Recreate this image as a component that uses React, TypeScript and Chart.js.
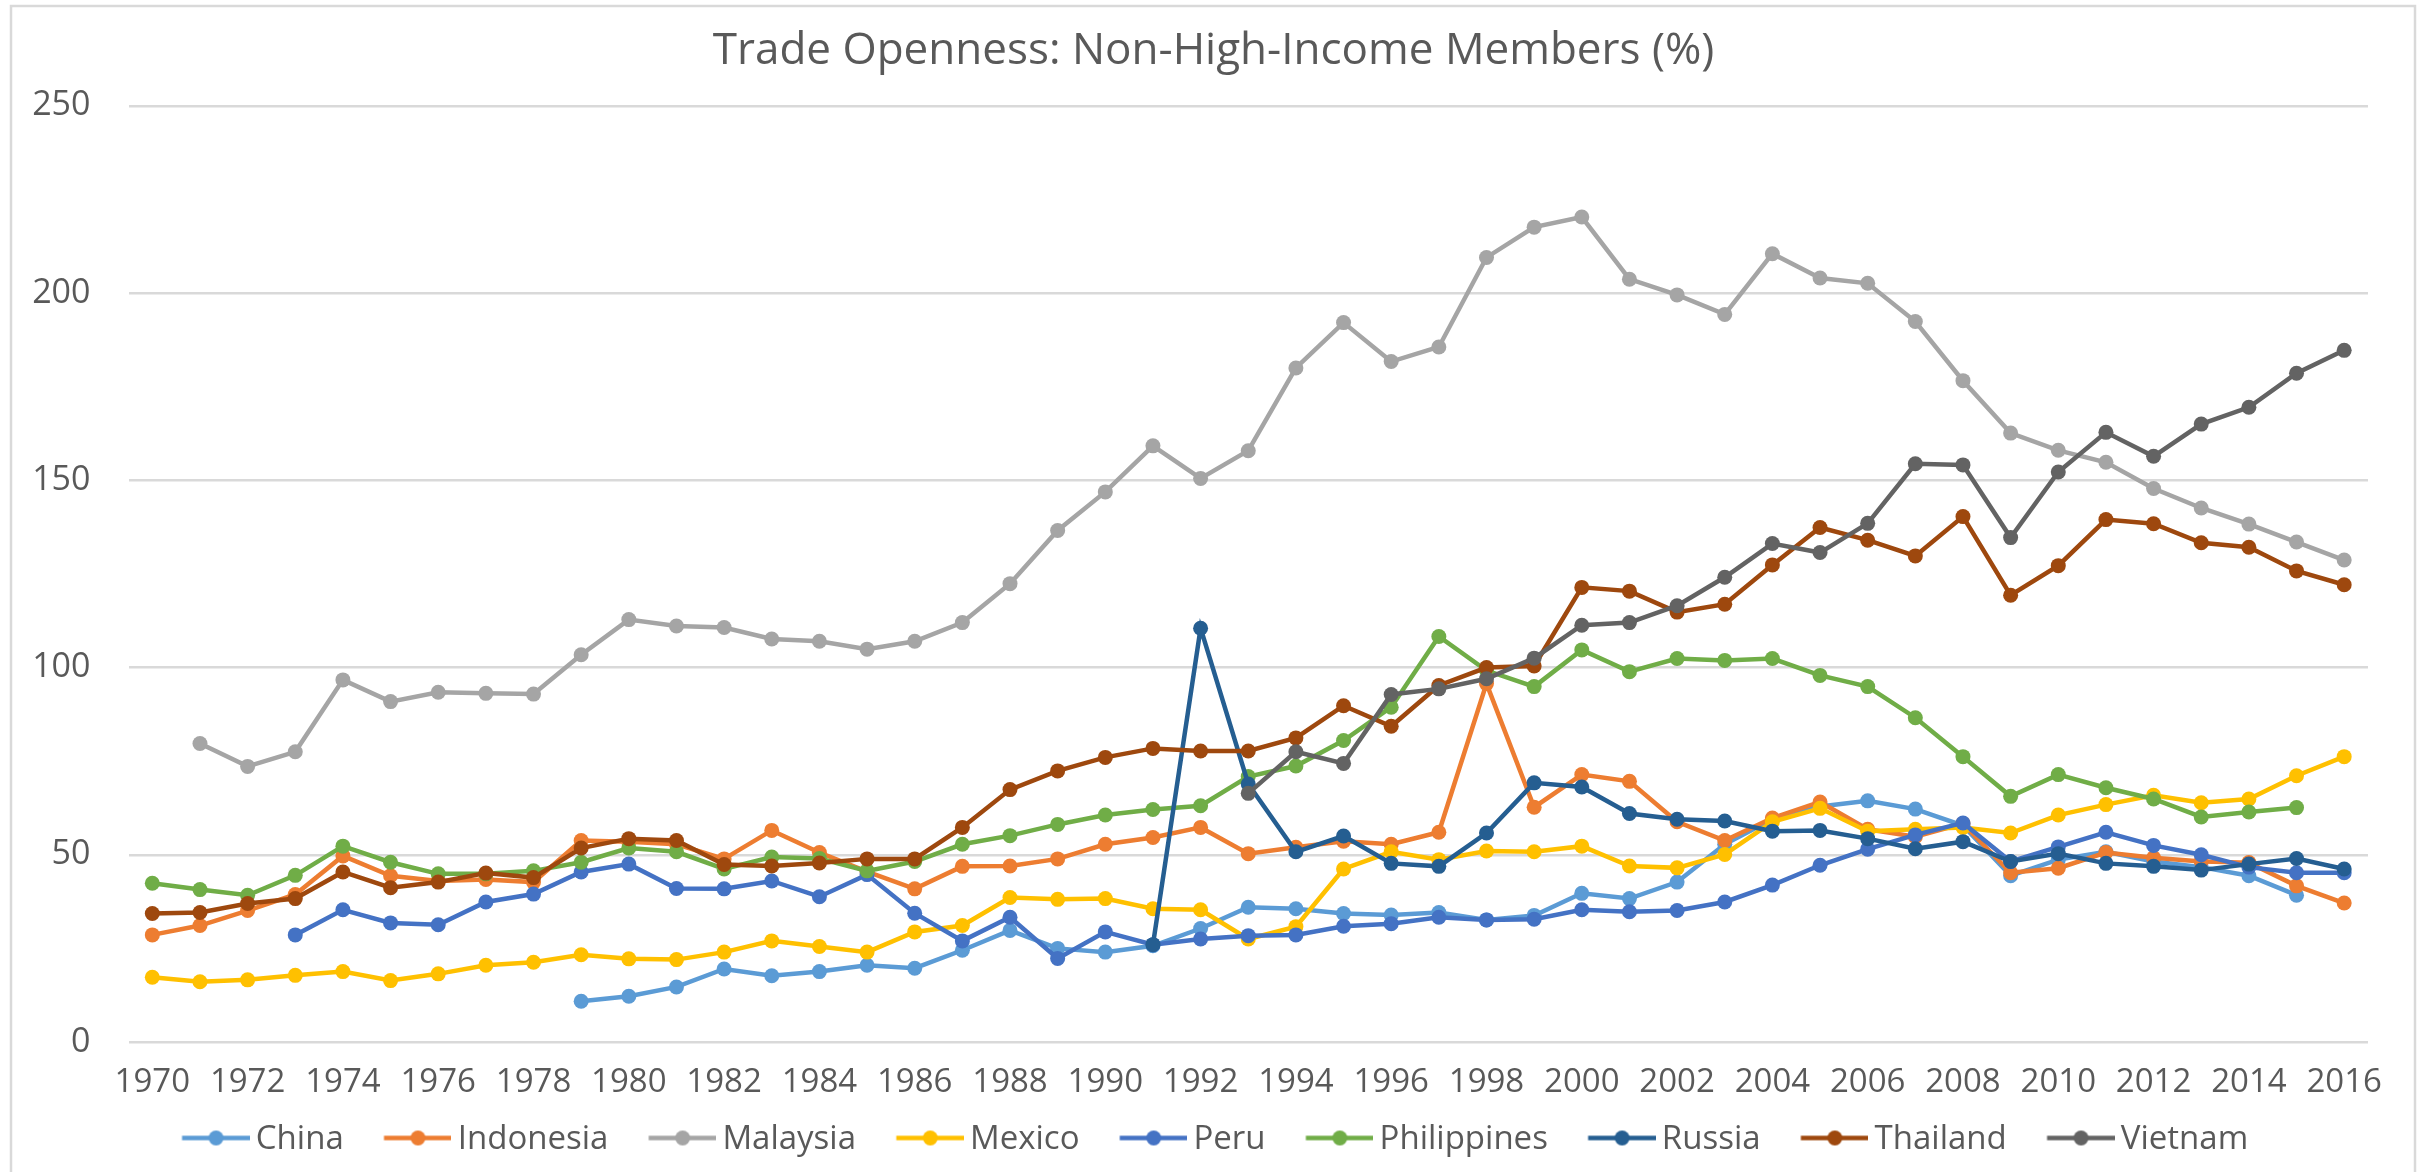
import React, { useEffect, useRef } from 'react';
import { Chart, registerables } from 'chart.js';

Chart.register(...registerables);

const years = [
  '1970', '1971', '1972', '1973', '1974', '1975', '1976', '1977', '1978', '1979',
  '1980', '1981', '1982', '1983', '1984', '1985', '1986', '1987', '1988', '1989',
  '1990', '1991', '1992', '1993', '1994', '1995', '1996', '1997', '1998', '1999',
  '2000', '2001', '2002', '2003', '2004', '2005', '2006', '2007', '2008', '2009',
  '2010', '2011', '2012', '2013', '2014', '2015', '2016',
];

const china = [
  null, null, null, null, null, null, null, null, null, 10.9,
  12.2, 14.7, 19.5, 17.7, 18.8, 20.5, 19.7, 24.5, 29.8, 25.0,
  24.0, 25.7, 30.3, 36.0, 35.6, 34.3, 33.9, 34.6, 32.6, 33.8,
  39.7, 38.3, 42.7, 52.8, 59.5, 62.9, 64.4, 62.2, 57.8, 44.4,
  48.7, 50.8, 48.2, 46.7, 44.4, 39.2, null,
];

const indonesia = [
  28.6, 31.1, 35.1, 39.4, 49.7, 44.4, 43.0, 43.4, 42.7, 53.8,
  53.5, 52.8, 48.9, 56.5, 50.6, 45.5, 40.9, 46.9, 47.0, 48.9,
  52.8, 54.6, 57.3, 50.3, 52.0, 53.6, 52.8, 56.0, 95.7, 62.7,
  71.4, 69.6, 58.8, 53.8, 59.8, 64.1, 56.8, 54.8, 58.3, 45.2,
  46.4, 50.6, 49.2, 48.2, 47.9, 41.7, 37.1,
];

const malaysia = [
  null, 79.7, 73.6, 77.5, 96.7, 90.9, 93.4, 93.1, 92.9, 103.4,
  112.8, 111.1, 110.7, 107.6, 107.0, 104.9, 107.0, 112.0, 122.4, 136.6,
  146.9, 159.2, 150.5, 157.9, 180.0, 192.1, 181.7, 185.6, 209.5, 217.6,
  220.3, 203.7, 199.5, 194.3, 210.5, 204.0, 202.6, 192.4, 176.6, 162.6,
  158.0, 154.8, 147.8, 142.6, 138.3, 133.5, 128.7,
];

const mexico = [
  17.3, 16.1, 16.6, 17.8, 18.8, 16.4, 18.2, 20.5, 21.3, 23.3,
  22.2, 22.0, 24.0, 27.0, 25.5, 24.0, 29.4, 31.1, 38.6, 38.1,
  38.3, 35.6, 35.3, 27.5, 30.8, 46.2, 50.8, 48.7, 51.0, 50.8,
  52.3, 47.0, 46.5, 50.1, 58.8, 62.4, 56.3, 56.8, 57.3, 55.8,
  60.6, 63.4, 65.9, 63.9, 64.9, 71.1, 76.2,
];

const peru = [
  null, null, null, 28.6, 35.3, 31.8, 31.3, 37.4, 39.5, 45.4,
  47.5, 41.0, 40.9, 43.0, 38.8, 44.7, 34.4, 27.0, 33.3, 22.3,
  29.4, 26.0, 27.5, 28.4, 28.6, 30.9, 31.6, 33.3, 32.6, 32.8,
  35.3, 34.8, 35.1, 37.4, 41.9, 47.2, 51.5, 55.3, 58.5, 48.2,
  52.1, 56.0, 52.5, 50.0, 46.7, 45.2, 45.2,
];

const philippines = [
  42.4, 40.7, 39.2, 44.5, 52.3, 48.0, 44.9, 44.9, 45.7, 48.0,
  51.8, 50.8, 46.2, 49.4, 49.0, 45.7, 48.2, 52.8, 55.1, 58.1,
  60.6, 62.1, 63.1, 70.9, 73.7, 80.5, 89.4, 108.3, 99.2, 94.9,
  104.7, 98.9, 102.4, 101.9, 102.4, 97.9, 94.9, 86.6, 76.2, 65.6,
  71.4, 67.9, 64.9, 60.1, 61.4, 62.6, null,
];

const russia = [
  null, null, null, null, null, null, null, null, null, null,
  null, null, null, null, null, null, null, null, null, null,
  null, 26.0, 110.5, 68.9, 50.8, 55.0, 47.7, 46.9, 55.8, 69.2,
  68.1, 61.0, 59.5, 59.0, 56.3, 56.5, 54.3, 51.6, 53.5, 48.2,
  50.3, 47.7, 46.9, 45.9, 47.5, 49.0, 46.2,
];

const thailand = [
  34.3, 34.6, 37.0, 38.3, 45.4, 41.2, 42.7, 45.1, 43.9, 51.8,
  54.3, 53.8, 47.4, 47.0, 47.8, 48.9, 48.9, 57.3, 67.4, 72.4,
  76.0, 78.4, 77.7, 77.7, 81.2, 89.8, 84.3, 95.2, 100.0, 100.4,
  121.4, 120.4, 114.8, 116.9, 127.4, 137.4, 134.0, 129.8, 140.3, 119.3,
  127.2, 139.5, 138.4, 133.3, 132.1, 125.8, 122.1,
];

const vietnam = [
  null, null, null, null, null, null, null, null, null, null,
  null, null, null, null, null, null, null, null, null, null,
  null, null, null, 66.4, 77.5, 74.4, 92.8, 94.3, 97.0, 102.5,
  111.3, 112.0, 116.5, 124.1, 133.1, 130.7, 138.5, 154.4, 154.1, 134.7,
  152.2, 162.8, 156.4, 165.0, 169.5, 178.6, 184.7,
];

const seriesNames = ['China', 'Indonesia', 'Malaysia', 'Mexico', 'Peru', 'Philippines', 'Russia', 'Thailand', 'Vietnam'];
const seriesData = [china, indonesia, malaysia, mexico, peru, philippines, russia, thailand, vietnam];
const seriesColors = ['#5B9BD5', '#ED7D31', '#A5A5A5', '#FFC000', '#4472C4', '#70AD47', '#255E91', '#9E480E', '#636363'];

const yTicks = { min: 0, max: 250, step: 50 };
const titleText = 'Trade Openness: Non-High-Income Members (%)';

const FONT = "'Open Sans', 'Noto Sans', sans-serif";
const TEXT_COLOR = '#595959';
const GRID_COLOR = '#D9D9D9';
const LINE_W = 4.5;
const MARKER_R = 7.5;

// legend icon: a short line with a circle marker, drawn at the right side of the icon canvas
const ICON_BOX = 87.5;
const ICON_W = 108.5;
function makeLegendIcon(color: string): HTMLCanvasElement {
  const c = document.createElement('canvas');
  c.width = ICON_W;
  c.height = 24;
  const ctx = c.getContext('2d')!;
  const x0 = ICON_W - 68;
  ctx.strokeStyle = color;
  ctx.lineWidth = LINE_W;
  ctx.beginPath();
  ctx.moveTo(x0, 10.5);
  ctx.lineTo(ICON_W, 10.5);
  ctx.stroke();
  ctx.fillStyle = color;
  ctx.beginPath();
  ctx.arc(x0 + 34, 10.5, MARKER_R, 0, Math.PI * 2);
  ctx.fill();
  return c;
}

const framePlugin = {
  id: 'chartFrame',
  afterLayout(chart: any) {
    if (chart.titleBlock) {
      chart.titleBlock.left = 59;
    }
    if (chart.legend) {
      chart.legend.left = 32;
    }
  },
  beforeDraw(chart: any) {
    const { ctx, width, height } = chart;
    ctx.save();
    ctx.fillStyle = '#ffffff';
    ctx.fillRect(0, 0, width, height);
    ctx.strokeStyle = GRID_COLOR;
    ctx.lineWidth = 2.5;
    ctx.strokeRect(11, 6, 2404, 1200);
    ctx.restore();
  },
};

export default function App() {
  const canvasRef = useRef<HTMLCanvasElement | null>(null);

  useEffect(() => {
    document.body.style.margin = '0';
    document.body.style.overflow = 'hidden';
    const canvas = canvasRef.current;
    if (!canvas) return;

    const icons = seriesColors.map((c) => makeLegendIcon(c));

    const datasets = seriesNames.map((name, i) => ({
      label: name,
      data: seriesData[i],
      borderColor: seriesColors[i],
      backgroundColor: seriesColors[i],
      pointBackgroundColor: seriesColors[i],
      pointBorderColor: seriesColors[i],
      pointBorderWidth: 0,
      pointRadius: MARKER_R,
      pointHoverRadius: MARKER_R,
      borderWidth: LINE_W,
      tension: 0,
      fill: false,
      spanGaps: false,
      order: seriesNames.length - 1 - i,
    }));

    const chart = new Chart(canvas, {
      type: 'line',
      data: { labels: years, datasets },
      plugins: [framePlugin],
      options: {
        animation: false,
        responsive: false,
        devicePixelRatio: 1,
        layout: { padding: { left: 20, right: 51, top: 0, bottom: 6 } },
        plugins: {
          tooltip: { enabled: false },
          title: {
            display: true,
            text: titleText,
            color: TEXT_COLOR,
            font: { family: FONT, size: 44, weight: 'normal' },
            padding: { top: 25, bottom: 28 },
          },
          legend: {
            display: true,
            position: 'bottom',
            labels: {
              usePointStyle: true,
              pointStyleWidth: ICON_BOX,
              padding: 10,
              color: TEXT_COLOR,
              font: { family: FONT, size: 33 },
              generateLabels: (ch: any) =>
                ch.data.datasets.map((ds: any, i: number) => ({
                  text: ds.label,
                  fillStyle: seriesColors[i],
                  strokeStyle: seriesColors[i],
                  lineWidth: 0,
                  pointStyle: icons[i],
                  hidden: !ch.isDatasetVisible(i),
                  datasetIndex: i,
                  fontColor: TEXT_COLOR,
                })),
            },
          },
        },
        scales: {
          x: {
            type: 'category',
            offset: true,
            grid: { display: false, drawTicks: false },
            border: { display: false },
            ticks: {
              autoSkip: false,
              maxRotation: 0,
              minRotation: 0,
              padding: 21,
              color: TEXT_COLOR,
              font: { family: FONT, size: 33 },
              callback: (_v: any, idx: number) => (idx % 2 === 0 ? years[idx] : ''),
            },
            afterFit: (scale: any) => {
              scale.height = 71;
            },
          },
          y: {
            min: yTicks.min,
            max: yTicks.max,
            grid: { color: GRID_COLOR, lineWidth: 2.5, drawTicks: false },
            border: { display: false },
            ticks: {
              stepSize: yTicks.step,
              padding: 38,
              color: TEXT_COLOR,
              font: { family: FONT, size: 34 },
            },
            afterFit: (scale: any) => {
              scale.width = 108.5;
            },
          },
        },
      } as any,
    });

    return () => chart.destroy();
  }, []);

  return (
    <div style={{ width: 2419, height: 1172, position: 'relative', overflow: 'hidden' }}>
      <canvas
        ref={canvasRef}
        width={2419}
        height={1172}
        style={{ display: 'block', width: 2419, height: 1172 }}
      />
    </div>
  );
}
